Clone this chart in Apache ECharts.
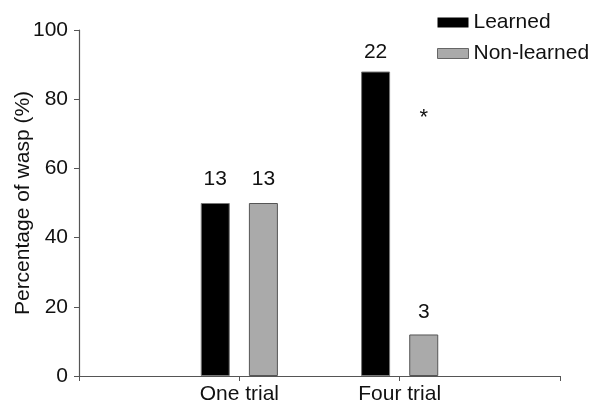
<!DOCTYPE html>
<html>
<head>
<meta charset="utf-8">
<script src="https://cdn.jsdelivr.net/npm/echarts@6/dist/echarts.min.js"></script>
<style>html,body{margin:0;padding:0;background:#fff;}#c{width:596px;height:409px;}</style>
</head>
<body>
<div id="c"></div>
<script>
var categories = ['', 'One trial', 'Four trial', ''];
var learned = [null, 50, 88, null];
var nonLearned = [null, 50, 12, null];
var learnedCounts = [null, '13', '22', null];
var nonLearnedCounts = [null, '13', '3', null];
var yTicks = [0, 20, 40, 60, 80, 100];

var FONT = 'Liberation Sans, Arial, sans-serif';
var chart = echarts.init(document.getElementById('c'));

function mkData(vals, counts, dists) {
  return vals.map(function (v, i) {
    if (v === null) return null;
    return { value: v, label: { show: true, formatter: counts[i], distance: dists[i] } };
  });
}

chart.setOption({
  animation: false,
  textStyle: { fontFamily: FONT },
  grid: { left: 79, right: 36, top: 30, bottom: 33, containLabel: false, outerBoundsMode: 'none' },
  legend: {
    orient: 'vertical',
    left: 432, top: 7,
    itemWidth: 31, itemHeight: 10, itemGap: 10,
    icon: 'rect',
    textStyle: { fontSize: 21, color: '#111', fontFamily: FONT },
    data: [
      { name: 'Learned', itemStyle: { borderWidth: 0 } },
      { name: 'Non-learned', itemStyle: { borderColor: '#666', borderWidth: 1 } }
    ]
  },
  xAxis: {
    type: 'category',
    data: categories,
    boundaryGap: false,
    axisLine: { lineStyle: { color: '#555', width: 1.2 } },
    axisTick: { show: true, length: 5, lineStyle: { color: '#555' }, alignWithLabel: true },
    axisLabel: { fontSize: 21, color: '#111', margin: 8, interval: 0 },
    splitLine: { show: false }
  },
  yAxis: {
    type: 'value',
    min: yTicks[0], max: yTicks[yTicks.length - 1], interval: 20,
    name: 'Percentage of wasp (%)',
    nameLocation: 'middle',
    nameGap: 45,
    nameMoveOverlap: false,
    nameTextStyle: { fontSize: 21, color: '#111' },
    axisLine: { show: true, lineStyle: { color: '#555', width: 1.2 } },
    axisTick: { show: true, length: 5, lineStyle: { color: '#555' } },
    axisLabel: { fontSize: 21, color: '#111', margin: 11 },
    splitLine: { show: false }
  },
  series: [
    {
      name: 'Learned', type: 'bar', barWidth: 29, barGap: '66%',
      itemStyle: { color: '#000', borderColor: '#777', borderWidth: 1 },
      label: { position: 'top', fontSize: 21, color: '#111' },
      data: mkData(learned, learnedCounts, [null, 13, 9, null])
    },
    {
      name: 'Non-learned', type: 'bar', barWidth: 29, barGap: '66%',
      itemStyle: { color: '#aaaaaa', borderColor: '#555', borderWidth: 1 },
      label: { position: 'top', fontSize: 21, color: '#111' },
      data: mkData(nonLearned, nonLearnedCounts, [null, 13, 12, null]),
      markPoint: {
        symbol: 'circle', symbolSize: 0,
        label: { show: true, formatter: '*', fontSize: 22, color: '#111', position: 'inside' },
        data: [{ coord: ['Four trial', 74.5] }]
      }
    }
  ]
});
</script>
</body>
</html>
